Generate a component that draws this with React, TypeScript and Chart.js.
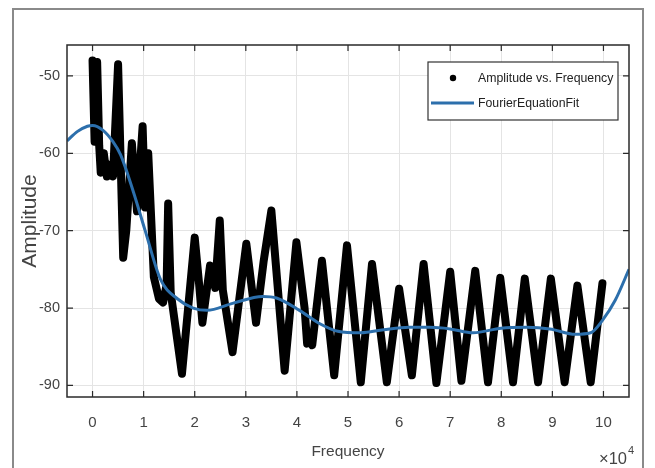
import React, { useEffect, useRef } from "react";
import { Chart, registerables } from "chart.js";

Chart.register(...registerables);

// Tick values (frequency axis in units of 10^4 Hz)
const freqTicks = [0, 1, 2, 3, 4, 5, 6, 7, 8, 9, 10];
const ampTicks = [-90, -80, -70, -60, -50];

// Measured amplitude vs. frequency (frequency ×10^4)
const measFreq = [
  0.0, 0.04, 0.09, 0.13, 0.16, 0.22, 0.28, 0.33, 0.4, 0.5, 0.6, 0.66, 0.77, 0.87, 0.98, 1.03,
  1.09, 1.2, 1.3, 1.38, 1.45, 1.48, 1.53, 1.75, 2.0, 2.08, 2.15, 2.3, 2.4, 2.49, 2.55, 2.74,
  3.01, 3.2, 3.35, 3.5, 3.76, 3.99, 4.15, 4.2, 4.25, 4.3, 4.49, 4.73, 4.98, 5.25, 5.47, 5.76,
  6.0, 6.25, 6.48, 6.73, 7.0, 7.22, 7.49, 7.74, 7.98, 8.23, 8.46, 8.72, 8.97, 9.24, 9.49, 9.75,
  9.98,
];
const measAmp = [
  -48.0, -58.5, -48.2, -59.0, -62.5, -60.0, -63.0, -61.5, -63.0, -48.5, -73.5, -70.0, -58.7, -67.5, -56.5, -67.0,
  -60.0, -76.0, -78.8, -79.3, -77.0, -66.5, -78.0, -88.5, -70.9, -76.5, -81.9, -74.5, -77.4, -68.7, -77.7, -85.7,
  -71.7, -81.9, -73.9, -67.4, -88.1, -71.5, -80.0, -84.6, -83.5, -84.8, -73.9, -88.7, -71.9, -89.6, -74.3, -89.6,
  -77.5, -88.7, -74.3, -89.7, -75.3, -89.4, -75.2, -89.6, -76.1, -89.6, -76.2, -89.6, -76.2, -89.6, -77.1, -89.6,
  -76.8,
];

// Fourier equation fit
const fitFreq = [
  -0.5, -0.3, -0.1, 0.0, 0.2, 0.4, 0.55, 0.8, 1.03, 1.33, 1.66, 1.97, 2.24, 2.74, 3.33, 3.6,
  4.05, 4.44, 4.8, 5.25, 5.7, 6.2, 6.6, 7.0, 7.45, 8.0, 8.5, 8.95, 9.45, 9.75, 9.98, 10.23, 10.5,
];
const fitAmp = [
  -58.4, -57.2, -56.5, -56.4, -57.0, -58.5, -60.2, -65.0, -70.0, -76.3, -78.8, -80.0, -80.3, -79.4, -78.5, -78.7,
  -80.3, -82.0, -83.0, -83.2, -82.8, -82.5, -82.5, -82.7, -83.2, -82.6, -82.5, -82.7, -83.4, -83.2, -81.6, -79.0, -75.0,
];

const seriesLabels = ["Amplitude vs. Frequency", "FourierEquationFit"];

const FONT = "'Liberation Sans', Arial, Helvetica, sans-serif";
const TEXT = "#444444";
const BLUE = "#2c6fac";

const decorPlugin = {
  id: "decor",
  beforeDraw(chart: any) {
    const ctx = chart.ctx;
    ctx.save();
    ctx.fillStyle = "#ffffff";
    ctx.fillRect(0, 0, chart.width, chart.height);
    ctx.restore();
  },
  afterDatasetsDraw(chart: any) {
    const { ctx, chartArea: ca, scales } = chart;
    ctx.save();
    // axes box
    ctx.strokeStyle = "#2a2a2a";
    ctx.lineWidth = 1.5;
    ctx.strokeRect(ca.left, ca.top, ca.right - ca.left, ca.bottom - ca.top);
    // inward ticks on all sides
    ctx.lineWidth = 1.2;
    const tl = 6;
    ctx.beginPath();
    scales.x.ticks.forEach((t: any) => {
      const px = scales.x.getPixelForValue(t.value);
      ctx.moveTo(px, ca.bottom);
      ctx.lineTo(px, ca.bottom - tl);
      ctx.moveTo(px, ca.top);
      ctx.lineTo(px, ca.top + tl);
    });
    scales.y.ticks.forEach((t: any) => {
      const py = scales.y.getPixelForValue(t.value);
      ctx.moveTo(ca.left, py);
      ctx.lineTo(ca.left + tl, py);
      ctx.moveTo(ca.right, py);
      ctx.lineTo(ca.right - tl, py);
    });
    ctx.stroke();

    // legend
    const lx = 428, ly = 62, lw = 190, lh = 58;
    ctx.fillStyle = "#ffffff";
    ctx.fillRect(lx, ly, lw, lh);
    ctx.strokeStyle = "#333333";
    ctx.lineWidth = 1.2;
    ctx.strokeRect(lx, ly, lw, lh);
    const ds = chart.data.datasets;
    ctx.fillStyle = ds[0].borderColor;
    ctx.beginPath();
    ctx.arc(453, 78, 3.2, 0, Math.PI * 2);
    ctx.fill();
    ctx.strokeStyle = ds[1].borderColor;
    ctx.lineWidth = 3;
    ctx.beginPath();
    ctx.moveTo(431, 103);
    ctx.lineTo(474, 103);
    ctx.stroke();
    ctx.fillStyle = "#222222";
    ctx.font = `12.3px ${FONT}`;
    ctx.textBaseline = "middle";
    ctx.textAlign = "left";
    ctx.fillText(ds[0].label, 478, 79);
    ctx.fillText(ds[1].label, 478, 104);

    // exponent label
    ctx.fillStyle = TEXT;
    ctx.font = `16.5px ${FONT}`;
    ctx.textBaseline = "alphabetic";
    ctx.fillText("\u00d710", 599, 464);
    const w = ctx.measureText("\u00d710").width;
    ctx.font = `11px ${FONT}`;
    ctx.fillText("4", 599 + w + 1, 454);

    // outer frame
    ctx.strokeStyle = "#8a8a8a";
    ctx.lineWidth = 2;
    ctx.beginPath();
    ctx.moveTo(13, 470);
    ctx.lineTo(13, 9);
    ctx.lineTo(643, 9);
    ctx.lineTo(643, 470);
    ctx.stroke();
    ctx.restore();
  },
};

export default function App() {
  const ref = useRef<HTMLCanvasElement | null>(null);

  useEffect(() => {
    if (!ref.current) return;
    const chart = new Chart(ref.current, {
      type: "line",
      data: {
        datasets: [
          {
            label: seriesLabels[0],
            data: measFreq.map((f, i) => ({ x: f, y: measAmp[i] })),
            borderColor: "#000000",
            backgroundColor: "#000000",
            borderWidth: 8,
            borderJoinStyle: "round",
            borderCapStyle: "round",
            pointRadius: 0,
            tension: 0,
            order: 2,
          },
          {
            label: seriesLabels[1],
            data: fitFreq.map((f, i) => ({ x: f, y: fitAmp[i] })),
            borderColor: BLUE,
            backgroundColor: BLUE,
            borderWidth: 3,
            pointRadius: 0,
            cubicInterpolationMode: "monotone",
            order: 1,
          },
        ],
      },
      options: {
        animation: false,
        responsive: false,
        devicePixelRatio: 1,
        layout: { padding: { top: 45, right: 26, left: 0, bottom: 0 } },
        plugins: { legend: { display: false }, tooltip: { enabled: false } },
        scales: {
          x: {
            type: "linear",
            min: -0.5,
            max: 10.5,
            afterBuildTicks: (s: any) => {
              s.ticks = freqTicks.map((v) => ({ value: v }));
            },
            afterFit: (s: any) => {
              s.height = 71;
            },
            grid: { color: "#e4e4e4", lineWidth: 1, drawTicks: false },
            border: { display: false },
            ticks: {
              padding: 17,
              color: TEXT,
              font: { family: FONT, size: 15 },
              maxRotation: 0,
              autoSkip: false,
              callback: (v: any) => String(v),
            },
            title: {
              display: true,
              text: "Frequency",
              color: TEXT,
              font: { family: FONT, size: 15.5 },
              padding: { top: 0, bottom: 7 },
            },
          },
          y: {
            type: "linear",
            min: -91.5,
            max: -46,
            afterBuildTicks: (s: any) => {
              s.ticks = ampTicks.map((v) => ({ value: v }));
            },
            afterFit: (s: any) => {
              s.width = 67;
            },
            grid: { color: "#e4e4e4", lineWidth: 1, drawTicks: false },
            border: { display: false },
            ticks: {
              padding: 7,
              color: TEXT,
              font: { family: FONT, size: 14.5 },
              callback: (v: any) => String(v),
            },
            title: {
              display: true,
              text: "Amplitude",
              color: TEXT,
              font: { family: FONT, size: 21 },
              padding: { top: 18, bottom: 0 },
            },
          },
        },
      },
      plugins: [decorPlugin],
    } as any);
    return () => chart.destroy();
  }, []);

  return (
    <div style={{ position: "fixed", left: 0, top: 0, width: 655, height: 468, background: "#fff" }}>
      <canvas ref={ref} width={655} height={468} style={{ width: 655, height: 468, display: "block" }} />
    </div>
  );
}
